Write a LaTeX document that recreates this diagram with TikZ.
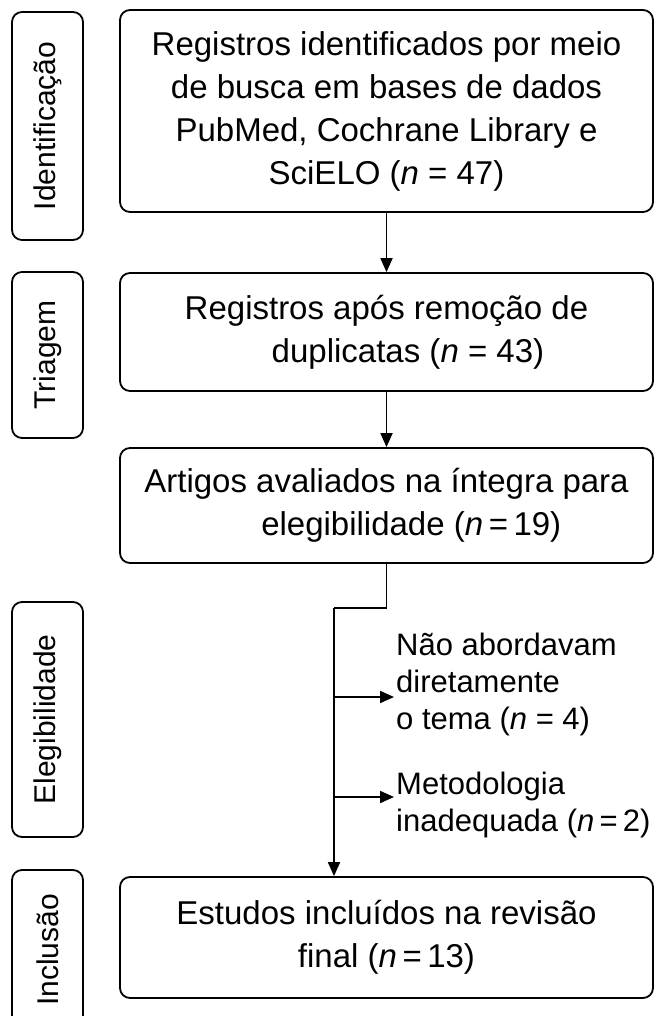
\documentclass[tikz,border=0pt]{standalone}
\usepackage{fontspec}
\setmainfont{Liberation Sans}
\usepackage{tikz}
\usetikzlibrary{arrows.meta,positioning}
\tikzstyle{box} = [draw, line width=1.8pt, rounded corners=10pt, minimum width=533pt, align=center, font=\fontsize{33}{43}\selectfont]
\tikzstyle{side} = [draw, line width=1.8pt, rounded corners=10pt, minimum width=71pt, font=\fontsize{30}{36}\selectfont]
\tikzstyle{excl} = [anchor=west, align=left, font=\fontsize{31}{37}\selectfont]
\tikzstyle{arrow} = [line width=1.8pt, -{Triangle[length=14pt,width=12pt]}]

\begin{document}
\begin{tikzpicture}[x=1pt, y=-1pt]
\useasboundingbox (0,0) rectangle (655,1016);
\clip (0,0) rectangle (655,1016);

% Phases
\node[side, minimum height=228pt] (ident) at (47.5,126) {\rotatebox{90}{Identificação}};
\node[side, minimum height=166pt] (triag) at (47.5,355) {\rotatebox{90}{Triagem}};
\node[side, minimum height=235pt] (eleg) at (47.5,719.5) {\rotatebox{90}{Elegibilidade}};
\node[side, minimum height=160pt] (incl) at (47.5,950) {\rotatebox{90}{Inclusão}};

% Boxes
\node[box, minimum height=202pt] (reg) at (386.5,111) {Registros identificados por meio\\de busca em bases de dados\\PubMed, Cochrane Library e\\SciELO (\textit{n} = 47)};
\node[box, minimum height=118pt] (dup) at (386.5,332) {Registros após remoção de\\\hspace*{1.3em}duplicatas (\textit{n} = 43)};
\node[box, minimum height=115pt] (full) at (386.5,505.5) {Artigos avaliados na íntegra para\\\hspace*{1.5em}elegibilidade (\textit{n}\,=\,19)};
\node[box, minimum height=121pt] (final) at (386.5,937.5) {Estudos incluídos na revisão\\final (\textit{n}\,=\,13)};

% Exclusions
\node[excl, inner sep=2pt] (tema) at (394,684) {Não abordavam\\diretamente\\o tema (\textit{n} = 4)};
\node[excl, inner sep=2pt] (metod) at (394,805) {Metodologia\\inadequada (\textit{n}\,=\,2)};

% Arrows
\draw[arrow] (reg) -- (dup);
\draw[arrow] (dup) -- (full);
\coordinate (elbow) at (334,608);
\coordinate (b1) at (334,697);
\coordinate (b2) at (334,797);
\draw[line width=1.8pt] (full.south) |- (elbow);
\draw[arrow] (elbow) -- (elbow |- final.north);
\draw[arrow] (b1) -- (b1 -| tema.west);
\draw[arrow] (b2) -- (b2 -| metod.west);
\end{tikzpicture}
\end{document}
